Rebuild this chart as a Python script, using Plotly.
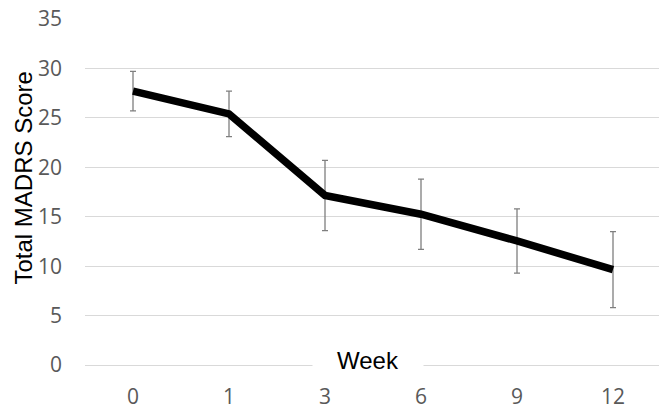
import plotly.graph_objects as go

weeks = ["0", "1", "3", "6", "9", "12"]
madrs_mean = [27.7, 25.4, 17.15, 15.25, 12.55, 9.65]
madrs_err = [2.0, 2.3, 3.55, 3.55, 3.25, 3.85]
y_ticks = [0, 5, 10, 15, 20, 25, 30, 35]

fig = go.Figure()
fig.add_trace(go.Scatter(
    x=weeks, y=madrs_mean, mode="lines",
    line=dict(color="black", width=7.5),
    error_y=dict(type="data", array=madrs_err, visible=True,
                 color="#7f7f7f", thickness=1.3, width=3),
    showlegend=False,
))

fig.update_layout(
    width=667, height=412,
    margin=dict(l=77, r=14, t=10, b=54),
    paper_bgcolor="white", plot_bgcolor="white",
    xaxis=dict(type="category", range=[-0.5, 5.5], showgrid=False,
               zeroline=False, showline=False, ticks="", automargin=False,
               tickfont=dict(family="Open Sans", size=21, color="#595959"),
               ticklabelstandoff=16),
    yaxis=dict(range=[-0.1, 35.1], tickvals=y_ticks, showgrid=True,
               gridcolor="#d9d9d9", gridwidth=1, zeroline=True,
               zerolinecolor="#d9d9d9", zerolinewidth=1, automargin=False,
               showline=False, ticks="", ticklabeloverflow="allow",
               tickfont=dict(family="Open Sans", size=21, color="#595959"),
               ticklabelstandoff=22),
    annotations=[
        dict(text="Total MADRS Score", xref="paper", yref="paper",
             x=-0.1337, y=0.54, xanchor="left", yanchor="middle",
             textangle=-90, showarrow=False,
             font=dict(family="Liberation Sans", size=24, color="black")),
        dict(text="Week", xref="paper", yref="y", x=0.491, y=0,
             xanchor="center", yanchor="middle", showarrow=False,
             bgcolor="white", width=108, height=28, yshift=5,
             font=dict(family="Liberation Sans", size=24, color="black")),
    ],
)

fig.write_html("out.html")
